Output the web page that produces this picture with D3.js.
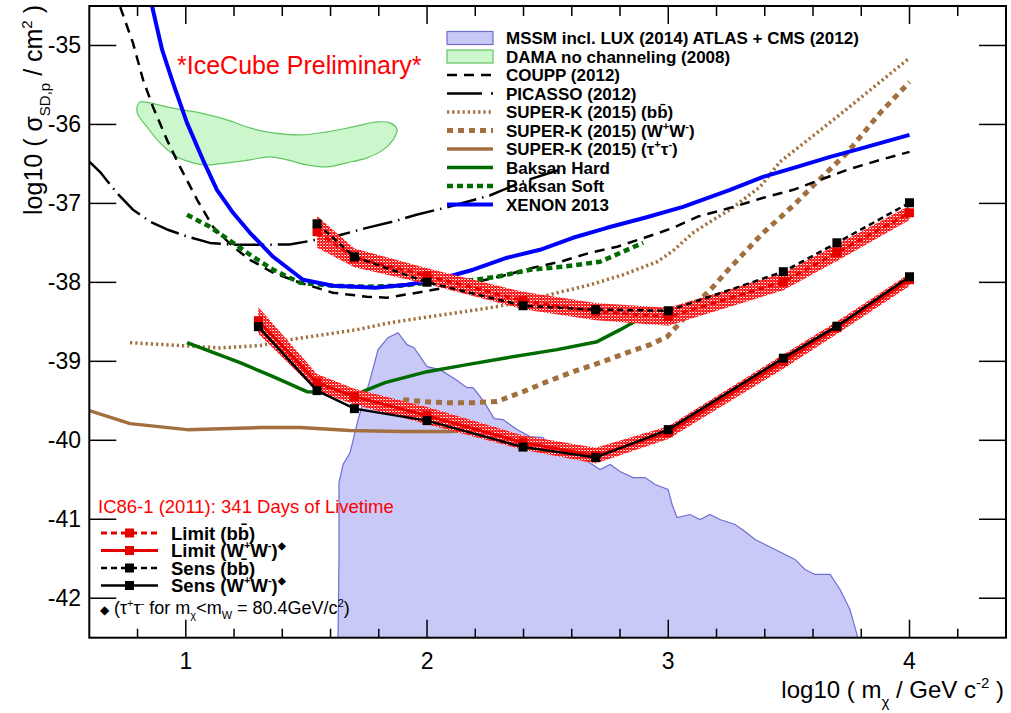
<!DOCTYPE html>
<html><head><meta charset="utf-8">
<script src="https://cdn.jsdelivr.net/npm/d3@7"></script>
<style>body{margin:0;background:#fff}svg{display:block}text{font-family:"Liberation Sans",Arial,Helvetica,sans-serif}</style>
</head><body><svg id="c" width="1011" height="713"></svg>
<script>
// ---------------- DATA ----------------
const xTicks = [1, 2, 3, 4];
const yTicks = [-42, -41, -40, -39, -38, -37, -36, -35];

const mssmX = [1.631,1.635,1.635,1.652,1.681,1.714,1.739,1.764,1.797,1.838,1.880,1.917,1.946,2.000,2.054,2.125,2.166,2.191,2.236,2.278,2.315,2.373,2.427,2.481,2.510,2.572,2.634,2.717,2.759,2.800,2.854,2.904,2.945,2.999,3.016,3.036,3.090,3.132,3.173,3.214,3.277,3.318,3.360,3.401,3.443,3.484,3.525,3.567,3.608,3.671,3.712,3.753,3.786];
const mssmY = [-42.5,-41.51,-40.535,-40.307,-40.155,-39.738,-39.485,-39.232,-38.852,-38.70,-38.637,-38.789,-38.827,-39.067,-39.105,-39.244,-39.333,-39.333,-39.51,-39.725,-39.738,-39.864,-39.953,-39.966,-40.08,-40.143,-40.206,-40.37,-40.307,-40.396,-40.472,-40.472,-40.56,-40.623,-40.813,-40.978,-40.94,-41.003,-40.94,-41.003,-41.066,-41.155,-41.256,-41.319,-41.383,-41.446,-41.509,-41.636,-41.699,-41.699,-41.889,-42.142,-42.5];

const damaX = [0.798,0.810,0.852,0.922,0.988,1.059,1.171,1.266,1.362,1.474,1.585,1.693,1.793,1.847,1.876,1.859,1.818,1.751,1.668,1.585,1.502,1.420,1.349,1.266,1.171,1.088,1.030,0.964,0.893,0.839,0.802];
const damaY = [-35.778,-35.715,-35.727,-35.778,-35.816,-35.854,-35.942,-36.044,-36.107,-36.132,-36.094,-36.031,-35.968,-35.980,-36.069,-36.195,-36.322,-36.423,-36.486,-36.537,-36.512,-36.448,-36.410,-36.448,-36.486,-36.512,-36.486,-36.410,-36.233,-36.031,-35.879];

const couppX = [0.728,0.781,0.823,0.864,0.922,0.976,1.047,1.113,1.196,1.266,1.362,1.474,1.610,1.751,1.834,1.959,2.095,2.191,2.332,2.440,2.552,2.676,2.788,2.913,3.021,3.120,3.257,3.394,3.518,3.630,3.742,3.879,4.0];
const couppY = [-34.513,-34.968,-35.436,-35.778,-36.195,-36.537,-36.954,-37.296,-37.549,-37.714,-37.878,-38.005,-38.131,-38.182,-38.194,-38.131,-38.055,-38.005,-37.903,-37.815,-37.739,-37.625,-37.549,-37.423,-37.309,-37.170,-37.056,-36.929,-36.828,-36.701,-36.575,-36.448,-36.347];

const picassoX = [0.6,0.644,0.715,0.781,0.852,0.922,1.017,1.10,1.2,1.3,1.43,1.544,1.64,1.75,1.86,1.96,2.095,2.26,2.40,2.575];
const picassoY = [-36.47,-36.60,-36.87,-37.08,-37.23,-37.33,-37.43,-37.50,-37.525,-37.525,-37.52,-37.46,-37.40,-37.31,-37.23,-37.14,-37.04,-36.90,-36.72,-36.55];

const skbbX = [0.769,0.976,1.142,1.308,1.432,1.569,1.710,1.847,1.984,2.124,2.262,2.399,2.540,2.677,2.813,2.954,3.020,3.103,3.186,3.256,3.326,3.381,3.463,3.600,3.741,3.878,4.0];
const skbbY = [-38.764,-38.80,-38.83,-38.80,-38.726,-38.663,-38.599,-38.511,-38.447,-38.384,-38.321,-38.245,-38.131,-38.030,-37.903,-37.739,-37.600,-37.372,-37.208,-37.081,-36.917,-36.790,-36.474,-36.145,-35.803,-35.462,-35.158];

const skwwX = [1.901,1.984,2.083,2.191,2.290,2.332,2.398,2.498,2.606,2.717,2.829,2.925,2.995,3.049,3.120,3.186,3.256,3.327,3.393,3.463,3.534,3.600,3.741,3.878,4.0];
const skwwY = [-39.485,-39.510,-39.523,-39.523,-39.510,-39.460,-39.384,-39.257,-39.131,-39.017,-38.890,-38.789,-38.688,-38.511,-38.258,-38.055,-37.815,-37.587,-37.372,-37.182,-36.980,-36.777,-36.360,-35.854,-35.462];

const sktautauX = [0.6,0.769,1.005,1.308,1.474,1.681,1.888,2.095,2.294];
const sktautauY = [-39.624,-39.789,-39.865,-39.839,-39.839,-39.877,-39.890,-39.890,-39.865];

const baksanHardX = [1.005,1.225,1.362,1.502,1.640,1.723,1.826,2.000,2.166,2.332,2.539,2.705,2.801,2.896];
const baksanHardY = [-38.764,-39.017,-39.194,-39.384,-39.396,-39.396,-39.270,-39.131,-39.042,-38.954,-38.852,-38.751,-38.599,-38.435];

const baksanSoftX = [1.005,1.100,1.196,1.266,1.362,1.474,1.610,1.751,1.888,2.000,2.137,2.290,2.427,2.564,2.717,2.896];
const baksanSoftY = [-37.144,-37.296,-37.499,-37.650,-37.840,-38.005,-38.043,-38.055,-38.043,-38.005,-37.992,-37.929,-37.840,-37.802,-37.739,-37.499];

const xenonX = [0.860,0.902,0.947,1.005,1.071,1.129,1.196,1.266,1.362,1.486,1.610,1.785,1.917,2.041,2.191,2.332,2.468,2.605,2.746,2.903,3.061,3.256,3.393,3.534,3.671,3.808,4.0];
const xenonY = [-34.50,-35.057,-35.474,-35.980,-36.448,-36.828,-37.119,-37.372,-37.676,-37.967,-38.043,-38.068,-38.030,-37.967,-37.840,-37.688,-37.587,-37.435,-37.309,-37.182,-37.043,-36.828,-36.663,-36.537,-36.410,-36.297,-36.132];

// IceCube IC86-1 results
const icMassBB = [1.544,1.699,2.0,2.398,2.699,3.0,3.477,3.699,4.0];
const limitBB = [-37.359,-37.688,-37.916,-38.232,-38.371,-38.435,-37.992,-37.625,-37.119];
const limitBBHigh = [-37.16,-37.57,-37.82,-38.12,-38.26,-38.32,-37.88,-37.52,-37.03];
const limitBBLow = [-37.56,-37.81,-38.02,-38.34,-38.48,-38.55,-38.10,-37.73,-37.21];
const sensBB = [-37.258,-37.676,-37.998,-38.296,-38.346,-38.359,-37.865,-37.499,-36.992];

const icMassWW = [1.301,1.544,1.699,2.0,2.398,2.699,3.0,3.477,3.699,4.0];
const limitWW = [-38.485,-39.270,-39.447,-39.687,-40.029,-40.194,-39.903,-39.004,-38.574,-37.967];
const limitWWHigh = [-38.315,-39.16,-39.347,-39.577,-39.939,-40.094,-39.823,-38.914,-38.494,-37.887];
const limitWWLow = [-38.655,-39.38,-39.547,-39.797,-40.119,-40.294,-39.983,-39.094,-38.654,-38.047];
const sensWW = [-38.561,-39.371,-39.599,-39.751,-40.086,-40.219,-39.865,-38.960,-38.555,-37.929];

const legendLabels = ["MSSM incl. LUX (2014) ATLAS + CMS (2012)","DAMA no channeling (2008)","COUPP (2012)","PICASSO (2012)","SUPER-K (2015) (bb)","SUPER-K (2015) (WW)","SUPER-K (2015) (ττ)","Baksan Hard","Baksan Soft","XENON 2013"];
const icLegendLabels = ["Limit (bb)","Limit (WW)","Sens (bb)","Sens (WW)"];

// ---------------- CHART ----------------
const svg = d3.select("#c");
svg.append("rect").attr("width",1011).attr("height",713).attr("fill","#fff");
const L = 89.3, R = 1006, T = 6, B = 637.7;
const x = d3.scaleLinear().domain([0.6,4.4]).range([L,R]);
const y = d3.scaleLinear().domain([-42.5,-34.5]).range([B,T]);

const defs = svg.append("defs");
defs.append("clipPath").attr("id","clip").append("rect").attr("x",L).attr("y",T).attr("width",R-L).attr("height",B-T);
const pat = defs.append("pattern").attr("id","redDots").attr("patternUnits","userSpaceOnUse").attr("width",3).attr("height",3);
pat.append("rect").attr("width",3).attr("height",3).attr("fill","#ff0000");
pat.append("rect").attr("x",0).attr("y",0).attr("width",1).attr("height",1).attr("fill","#ffffff");
pat.append("rect").attr("x",1.5).attr("y",1.5).attr("width",1).attr("height",1).attr("fill","#ffffff");
pat.append("rect").attr("x",2).attr("y",0).attr("width",1).attr("height",1).attr("fill","#ffb0b0");

const zip = (xs, ys) => xs.map((v,i)=>[v, ys[i]]);
const line = d3.line().x(d=>x(d[0])).y(d=>y(d[1]));
const g = svg.append("g").attr("clip-path","url(#clip)");

const C = {
  mssmFill:"#c9c9f7", mssmStroke:"#6e6ed2",
  damaFill:"#ccf7cc", damaStroke:"#62c462",
  brown:"#a2703e", green:"#006b00", blue:"#0000ff"
};

g.append("path").datum(zip(mssmX,mssmY)).attr("d", d=>line(d)+"Z")
  .attr("fill",C.mssmFill).attr("stroke",C.mssmStroke).attr("stroke-width",1.2);
g.append("path").datum(zip(damaX,damaY)).attr("d", d3.line().x(d=>x(d[0])).y(d=>y(d[1])).curve(d3.curveCatmullRomClosed))
  .attr("fill",C.damaFill).attr("stroke",C.damaStroke).attr("stroke-width",1.2);

const styles = {
  coupp:{stroke:"#000",w:2.5,dash:"10,7"},
  picasso:{stroke:"#000",w:2.5,dash:"30,6,1.5,6"},
  skbb:{stroke:C.brown,w:3.5,dash:"2.2,3"},
  skww:{stroke:C.brown,w:5,dash:"6,5"},
  sktautau:{stroke:C.brown,w:3.5,dash:null},
  bhard:{stroke:C.green,w:3.5,dash:null},
  bsoft:{stroke:C.green,w:4.5,dash:"6,4"},
  xenon:{stroke:C.blue,w:4,dash:null}
};
function drawLine(xs, ys, st){
  g.append("path").datum(zip(xs,ys)).attr("d",line).attr("fill","none")
    .attr("stroke",st.stroke).attr("stroke-width",st.w).attr("stroke-dasharray",st.dash)
    .attr("stroke-linejoin","round");
}
drawLine(skbbX, skbbY, styles.skbb);
drawLine(skwwX, skwwY, styles.skww);
drawLine(sktautauX, sktautauY, styles.sktautau);
drawLine(couppX, couppY, styles.coupp);
drawLine(picassoX, picassoY, styles.picasso);
drawLine(baksanHardX, baksanHardY, styles.bhard);
drawLine(baksanSoftX, baksanSoftY, styles.bsoft);
drawLine(xenonX, xenonY, styles.xenon);

const area = d3.area().x(d=>x(d.m)).y0(d=>y(d.lo)).y1(d=>y(d.hi));
g.append("path").datum(icMassBB.map((m,i)=>({m, lo:limitBBLow[i], hi:limitBBHigh[i]})))
  .attr("d",area).attr("fill","url(#redDots)");
g.append("path").datum(icMassWW.map((m,i)=>({m, lo:limitWWLow[i], hi:limitWWHigh[i]})))
  .attr("d",area).attr("fill","url(#redDots)");

function drawIC(ms, vs, color, w, dash){
  g.append("path").datum(zip(ms,vs)).attr("d",line).attr("fill","none")
    .attr("stroke",color).attr("stroke-width",w).attr("stroke-dasharray",dash);
  g.selectAll(null).data(zip(ms,vs)).enter().append("rect")
    .attr("x",d=>x(d[0])-4.5).attr("y",d=>y(d[1])-4.5).attr("width",9).attr("height",9).attr("fill",color);
}
drawIC(icMassBB, limitBB, "#e60000", 3, "6,4");
drawIC(icMassWW, limitWW, "#e60000", 3, null);
drawIC(icMassBB, sensBB, "#000", 2.5, "6,4");
drawIC(icMassWW, sensWW, "#000", 2.5, null);

// ---------------- AXES ----------------
const ax = svg.append("g").attr("stroke","#000");
ax.append("rect").attr("x",L).attr("y",T).attr("width",R-L).attr("height",B-T).attr("fill","none").attr("stroke-width",2);
const xMinor = d3.range(0.8, 4.4, 0.2).filter(v=>Math.abs(v-Math.round(v))>1e-6);
xTicks.forEach(v=>{
  ax.append("line").attr("x1",x(v)).attr("x2",x(v)).attr("y1",B).attr("y2",B-18).attr("stroke-width",1.5);
  ax.append("line").attr("x1",x(v)).attr("x2",x(v)).attr("y1",T).attr("y2",T+18).attr("stroke-width",1.5);
});
xMinor.forEach(v=>{
  ax.append("line").attr("x1",x(v)).attr("x2",x(v)).attr("y1",B).attr("y2",B-9).attr("stroke-width",1.5);
  ax.append("line").attr("x1",x(v)).attr("x2",x(v)).attr("y1",T).attr("y2",T+10).attr("stroke-width",1.5);
});
yTicks.forEach(v=>{
  ax.append("line").attr("x1",L).attr("x2",L+27).attr("y1",y(v)).attr("y2",y(v)).attr("stroke-width",1.5);
  ax.append("line").attr("x1",R).attr("x2",R-27).attr("y1",y(v)).attr("y2",y(v)).attr("stroke-width",1.5);
});
const lab = svg.append("g").attr("font-size",23).attr("fill","#000");
xTicks.forEach(v=>lab.append("text").attr("x",x(v)).attr("y",669).attr("text-anchor","middle").text(v));
yTicks.forEach(v=>lab.append("text").attr("x",81).attr("y",y(v)+8).attr("text-anchor","end").text(v));

function rich(sel, xx, yy, segs, attrs){
  const t = sel.append("text").attr("x",xx).attr("y",yy);
  Object.entries(attrs||{}).forEach(([k,v])=>t.attr(k,v));
  let cur = 0;
  segs.forEach(([s, sh, fs])=>{
    const ts = t.append("tspan").attr("dy", (sh||0)-cur).text(s);
    if(fs) ts.attr("font-size", fs);
    cur = sh||0;
  });
  return t;
}

rich(svg, 1004, 698, [["log10 ( m"],["χ",9,15],[" / GeV c"],["-2",-10,15],[" )"]],
  {"text-anchor":"end","font-size":24});
rich(svg, 0, 0, [["log10 ( σ"],["SD,p",8,15],[" / cm"],["2",-10,15],[" )"]],
  {"text-anchor":"end","font-size":25,"transform":"translate(42,5) rotate(-90)"});

svg.append("text").attr("x",177).attr("y",74).attr("font-size",25).attr("fill","#ff0000").text("*IceCube Preliminary*");

// ---------------- TOP LEGEND ----------------
const legRows = [38,56.5,75,93.5,112,130.5,149,167.5,186,204.5];
const lg = svg.append("g");
const swX1 = 447, swX2 = 493;
const legendKinds = [
  {type:"box", fill:C.mssmFill, stroke:C.mssmStroke},
  {type:"box", fill:C.damaFill, stroke:C.damaStroke},
  {type:"line", st:styles.coupp},
  {type:"line", st:{stroke:"#000",w:2.5,dash:"35,9,3,9"}},
  {type:"line", st:styles.skbb},
  {type:"line", st:styles.skww},
  {type:"line", st:styles.sktautau},
  {type:"line", st:styles.bhard},
  {type:"line", st:styles.bsoft},
  {type:"line", st:styles.xenon}
];
legendKinds.forEach((k,i)=>{
  const yy = legRows[i];
  if(k.type==="box"){
    lg.append("rect").attr("x",swX1).attr("y",yy-6.5).attr("width",swX2-swX1).attr("height",13)
      .attr("fill",k.fill).attr("stroke",k.stroke).attr("stroke-width",1.2);
  } else {
    lg.append("line").attr("x1",swX1).attr("x2",swX2).attr("y1",yy).attr("y2",yy)
      .attr("stroke",k.st.stroke).attr("stroke-width",k.st.w).attr("stroke-dasharray",k.st.dash);
  }
});
function labelSegs(label, size, extra){
  const sup = Math.round(size*0.62), up = -Math.round(size*0.42);
  const m = label.match(/^(.*)\((bb|WW|ττ)\)$/);
  let segs;
  if(!m) segs = [[label]];
  else if(m[2]==="bb") segs = [[m[1]+"(bb\u0304)"]];
  else { const c = m[2][0]; segs = [[m[1]+"("+c],["+",up,sup],[c,0],["-",up,sup],[")",0]]; }
  if(extra) segs.push([extra, up, Math.round(size*0.55)]);
  return segs;
}
legendLabels.forEach((s,i)=>rich(lg, 506, legRows[i]+6, labelSegs(s,17), {"font-size":17,"font-weight":"bold"}));

// ---------------- ICECUBE LEGEND ----------------
svg.append("text").attr("x",98).attr("y",513).attr("font-size",18.5).attr("fill","#ff0000").text("IC86-1 (2011): 341 Days of Livetime");
const icRows = [533,550.5,568,585.5];
const icStyles = [
  {c:"#e60000", dash:"6,4", w:3},
  {c:"#e60000", dash:null, w:3},
  {c:"#000", dash:"6,4", w:2.5},
  {c:"#000", dash:null, w:2.5}
];
icStyles.forEach((s,i)=>{
  const yy = icRows[i];
  svg.append("line").attr("x1",101).attr("x2",158).attr("y1",yy).attr("y2",yy)
    .attr("stroke",s.c).attr("stroke-width",s.w).attr("stroke-dasharray",s.dash);
  svg.append("rect").attr("x",125).attr("y",yy-4.5).attr("width",9).attr("height",9).attr("fill",s.c);
  rich(svg, 171, yy+6.5, labelSegs(icLegendLabels[i], 18.5, i%2===1 ? "◆" : null), {"font-size":18.5,"font-weight":"bold"});
});
rich(svg, 100, 614, [["◆",0,12],[" (τ",0],["+",-7,11],["τ",0],["-",-7,11],[" for m",0],["χ",5,11],["<m",0],["W",5,11],[" = 80.4GeV/c",0],["2",-7,11],[")",0]],
  {"font-size":18});
</script></body></html>
